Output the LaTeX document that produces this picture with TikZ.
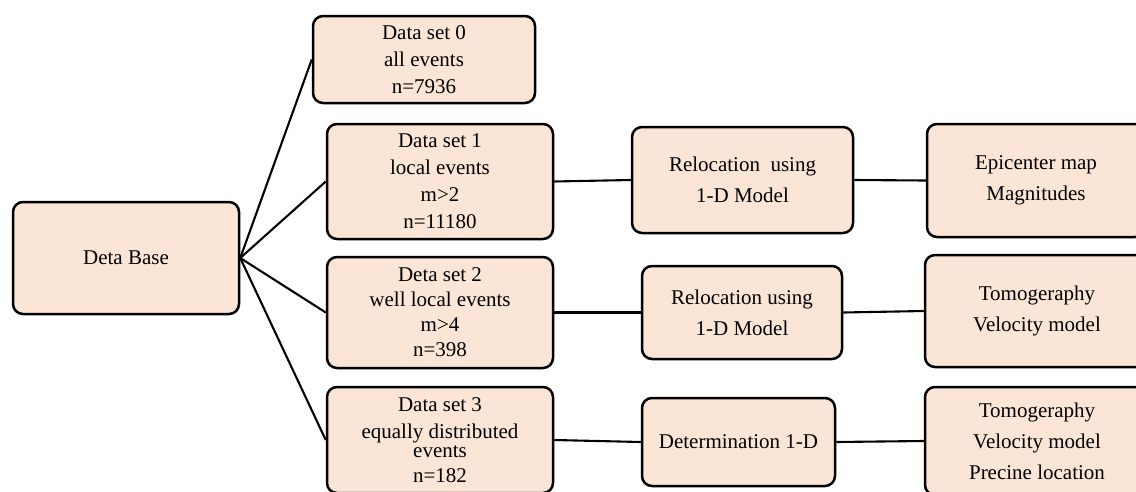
\documentclass[tikz,border=0pt]{standalone}
\usepackage{fontspec}
\setmainfont{Liberation Serif}
\definecolor{peach}{HTML}{FBE5D6}

\begin{document}
\begin{tikzpicture}[x=1pt, y=-1pt,
		box/.style = {draw, line width=2.5pt, rounded corners=10pt, fill=peach, align=center, inner sep=0pt, font=\fontsize{21}{27}\selectfont},
		tall/.style = {font=\fontsize{21}{31}\selectfont},
		link/.style = {line width=2.1pt}]
		\clip (0,0) rectangle (1136,491);
		% Laatikot
		\node[box, minimum width=226, minimum height=112] (base) at (126,258) {Deta Base};
		\node[box, minimum width=222, minimum height=87] (ds0) at (424,59.5) {Data set 0\\all events\\n=7936};
		\node[box, minimum width=226, minimum height=115] (ds1) at (440,181.5) {Data set 1\\local events\\m>2\\n=11180};
		\node[box, minimum width=226, minimum height=111, font=\fontsize{21}{25}\selectfont] (ds2) at (440,312.5) {Deta set 2\\well local events\\m>4\\n=398};
		\node[box, minimum width=226, minimum height=106] (ds3) at (440,440) {Data set 3\\equally distributed\\[-8pt]events\\[-2pt]n=182};
		\node[box, tall, minimum width=221, minimum height=106] (rel1) at (742.5,180) {Relocation\ \ using\\1-D Model};
		\node[box, tall, minimum width=200, minimum height=93] (rel2) at (742,312.5) {Relocation using\\1-D Model};
		\node[box, minimum width=193, minimum height=88] (det) at (738.5,442) {Determination 1-D};
		\node[box, tall, minimum width=218, minimum height=113] (epi) at (1036,180.5) {Epicenter map\\Magnitudes};
		\node[box, tall, minimum width=224, minimum height=112] (tomo1) at (1037,311) {Tomogeraphy\\Velocity model};
		\node[box, tall, minimum width=224, minimum height=108] (tomo2) at (1037,441) {Tomogeraphy\\Velocity model\\Precine location};
		% Viivat
		\draw[link] (base.east) -- (ds0.west);	% base-0
		\draw[link] (base.east) -- (ds1.west);	% base-1
		\draw[link] (base.east) -- (ds2.west);	% base-2
		\draw[link] (base.east) -- (ds3.west);	% base-3
		\draw[link] (ds1.east) -- (rel1.west);	% 1-rel
		\draw[link] (rel1.east) -- (epi.west);	% rel-epi
		\draw[link, line width=2.8pt] (ds2.east) -- (rel2.west);	% 2-rel
		\draw[link] (rel2.east) -- (tomo1.west);	% rel-tomo
		\draw[link] (ds3.east) -- (det.west);	% 3-det
		\draw[link] (det.east) -- (tomo2.west);	% det-tomo
\end{tikzpicture}
\end{document}
